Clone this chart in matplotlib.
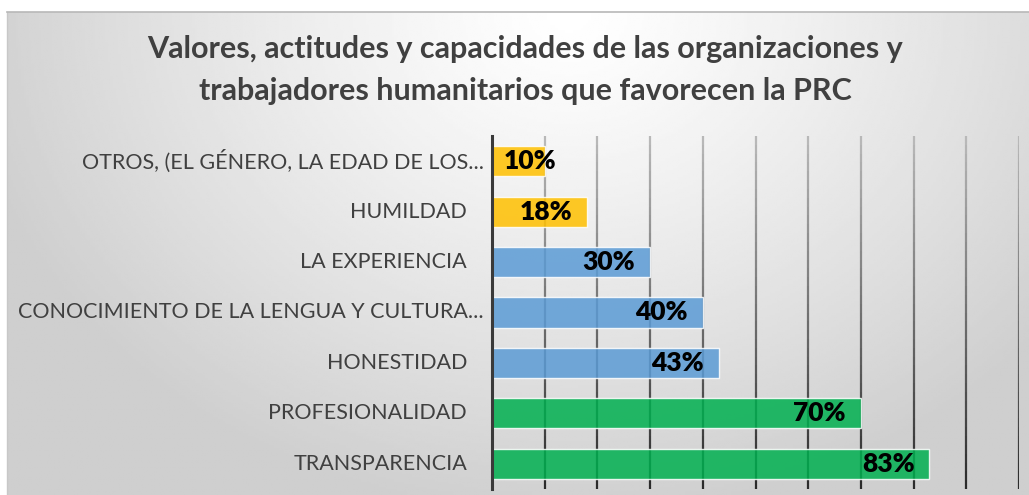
import numpy as np
import matplotlib.pyplot as plt
from matplotlib.collections import LineCollection
from matplotlib.transforms import ScaledTranslation

# Data (top to bottom as shown in the chart)
categories = [
    "OTROS, (EL GÉNERO, LA EDAD DE LOS...",
    "HUMILDAD",
    "LA EXPERIENCIA",
    "CONOCIMIENTO DE LA LENGUA Y CULTURA...",
    "HONESTIDAD",
    "PROFESIONALIDAD",
    "TRANSPARENCIA",
]
values = [10, 18, 30, 40, 43, 70, 83]
bar_colors = ["#FFC000", "#FFC000", "#5B9BD5", "#5B9BD5", "#5B9BD5", "#00B050", "#00B050"]

title = "Valores, actitudes y capacidades de las organizaciones y\ntrabajadores humanitarios que favorecen la PRC"

plt.rcParams['font.family'] = ['Lato', 'DejaVu Sans']

W, H = 1029, 495
fig = plt.figure(figsize=(W / 100, H / 100), dpi=100)
fig.patch.set_facecolor("white")

# Chart area background: radial gradient, white at top centre
bg = fig.add_axes([7 / W, 0, 1 - 7 / W, (H - 12) / H], zorder=0)
gx, gy = np.meshgrid(np.linspace(0, 1, 400), np.linspace(0, 1, 200))
r = np.sqrt(((gx - 0.55) / 0.6) ** 2 + (gy / 1.05) ** 2)
shade = 1 - 0.19 * np.clip(r, 0, 1) ** 1.2
bg.imshow(shade, cmap="gray", vmin=0, vmax=1, aspect="auto", extent=[0, 1, 1, 0], interpolation="bilinear")
bg.set_xlim(0, 1)
bg.set_ylim(1, 0)
bg.set_xticks([])
bg.set_yticks([])
for side in ["right", "bottom"]:
    bg.spines[side].set_visible(False)
bg.spines["top"].set_color("#b8b8b8")
bg.spines["left"].set_color("#c8c8c8")
bg.spines["top"].set_linewidth(1.2)
bg.spines["left"].set_linewidth(1.0)

ax = fig.add_axes([492 / W, 6 / H, (1019 - 492) / W, (489 - 136) / H], zorder=1)
ax.set_facecolor("none")
n = len(categories)
ypos = np.arange(n)
ax.set_xlim(0, 100)
ax.set_ylim(n - 0.5, -0.5)

# gridlines with a vertical gradient (light at top, dark at bottom)
ys = np.linspace(-0.5, n - 0.5, 41)
for gxv in range(10, 101, 10):
    segs = [[(gxv, ys[i]), (gxv, ys[i + 1])] for i in range(len(ys) - 1)]
    t = np.linspace(0, 1, len(segs))
    cols = [(0.72 - 0.55 * k, 0.72 - 0.55 * k, 0.72 - 0.55 * k) for k in t]
    ax.add_collection(LineCollection(segs, colors=cols, linewidths=1.6, zorder=1))

ax.barh(ypos, values, height=0.6, color=bar_colors, alpha=0.85,
        edgecolor=(1, 1, 1, 0.5), linewidth=1.0, zorder=2)

# data labels
for y, v in zip(ypos, values):
    if v < 15:
        off = ScaledTranslation(12 / 100, 0, fig.dpi_scale_trans)
        ax.text(0, y, f"{v}%", transform=ax.transData + off, ha="left", va="center",
                fontsize=19, fontweight="heavy", color="black", zorder=3)
    else:
        off = ScaledTranslation(-15 / 100, 0, fig.dpi_scale_trans)
        ax.text(v, y, f"{v}%", transform=ax.transData + off, ha="right", va="center",
                fontsize=19, fontweight="heavy", color="black", zorder=3)

# category labels
ax.set_yticks([])
ax.set_xticks([])
for y, lab in zip(ypos, categories):
    pad = 8 if lab.endswith("...") else 25
    off = ScaledTranslation(-pad / 100, 0, fig.dpi_scale_trans)
    ax.text(0, y, lab, transform=ax.get_yaxis_transform() + off, ha="right", va="center",
            fontsize=15.5, color="#404040")

for side in ["top", "right", "bottom"]:
    ax.spines[side].set_visible(False)
ax.spines["left"].set_color("#3a3a3a")
ax.spines["left"].set_linewidth(2.2)
ax.spines["left"].set_zorder(4)

fig.text(525 / W, 1 - 70 / H, title, ha="center", va="center", fontsize=22,
         fontweight="bold", color="#404040", linespacing=1.6)

fig.savefig("out.png", dpi=100)
